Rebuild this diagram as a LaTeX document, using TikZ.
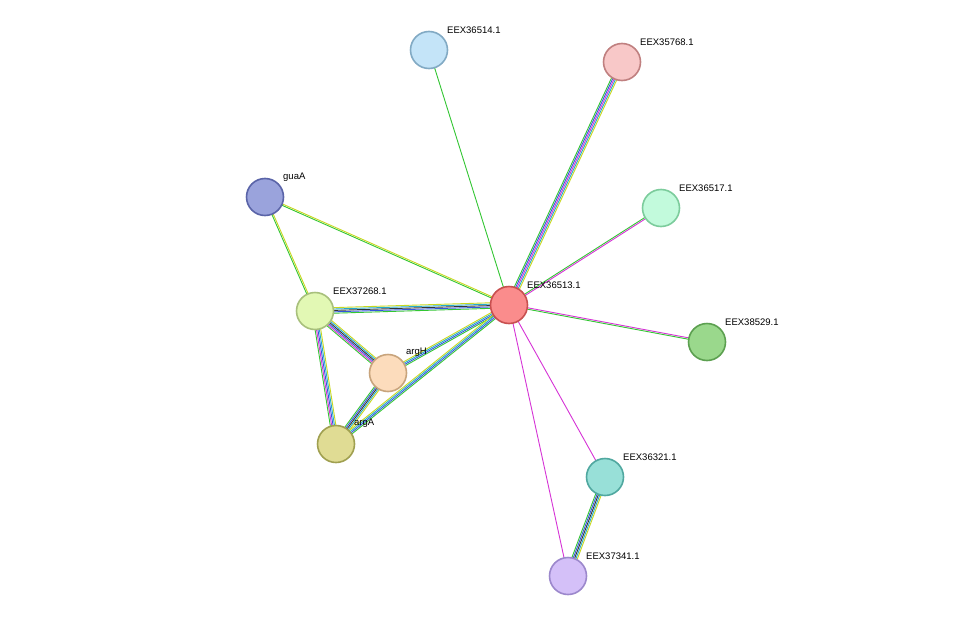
\documentclass[tikz,border=0pt]{standalone}
\usepackage{fontspec}
\newfontfamily\lab{Liberation Sans}
\usetikzlibrary{calc}
\definecolor{eg}{HTML}{33C633}
\definecolor{em}{HTML}{D633D6}
\definecolor{ey}{HTML}{C8D820}
\definecolor{eb}{HTML}{3355DD}
\definecolor{ec}{HTML}{22AACC}
\definecolor{ek}{HTML}{333333}
\newcommand\medge[4]{%
  \foreach \cc [count=\i] in {#3}{%
    \pgfmathsetmacro\oo{(\i-(#4+1)/2)*1.4}
    \draw[\cc,line width=0.9pt] ($(#1)!\oo pt!90:(#2)$) -- ($(#2)!\oo pt!-90:(#1)$);
  }}
\tikzset{prot/.style={circle,minimum size=37pt,line width=1.6pt,inner sep=0pt},
  plab/.style={font=\lab\fontsize{9.5}{11}\selectfont,anchor=south west,inner sep=1pt}}
\begin{document}
\begin{tikzpicture}[x=1pt,y=-1pt]
\useasboundingbox (0,0) rectangle (976,621);
\fill[white] (0,0) rectangle (976,621);
\coordinate (p14) at (429,50);
\coordinate (p68) at (622,62);
\coordinate (gua) at (265,197);
\coordinate (p17) at (661,208);
\coordinate (p13) at (509,305);
\coordinate (p268) at (315,311);
\coordinate (argH) at (388,373);
\coordinate (argA) at (336,444);
\coordinate (p29) at (707,342);
\coordinate (p21) at (605,477);
\coordinate (p41) at (568,576);
\medge{p14}{p13}{eg}{1}
\medge{p68}{p13}{eg,eb,em,ec,ey}{5}
\medge{gua}{p13}{eg,ey}{2}
\medge{gua}{p268}{eg,ey}{2}
\medge{p17}{p13}{eg,em}{2}
\medge{p29}{p13}{em,eg}{2}
\medge{p13}{p21}{em}{1}
\medge{p13}{p41}{em}{1}
\medge{p21}{p41}{eg,eb,ek,ec,ey}{5}
\medge{p268}{p13}{eg,eb,ek,ec,ey}{5}
\medge{p268}{argH}{eg,em,eb,ek,ec,ey}{6}
\medge{p268}{argA}{eg,em,eb,ec,ey}{5}
\medge{argH}{p13}{eg,eb,ec,ey}{4}
\medge{argA}{p13}{eg,eb,ec,ey}{4}
\medge{argH}{argA}{eg,eb,ek,ec,ey}{5}
\node[prot,fill={rgb,255:red,196;green,228;blue,248},draw={rgb,255:red,130;green,170;blue,196}] (n14) at (p14) {};
\node[prot,fill={rgb,255:red,248;green,200;blue,200},draw={rgb,255:red,192;green,128;blue,128}] (n68) at (p68) {};
\node[prot,fill={rgb,255:red,154;green,163;blue,220},draw={rgb,255:red,90;green,100;blue,168}] (ngua) at (gua) {};
\node[prot,fill={rgb,255:red,194;green,250;blue,220},draw={rgb,255:red,124;green,204;blue,156}] (n17) at (p17) {};
\node[prot,fill={rgb,255:red,250;green,140;blue,140},draw={rgb,255:red,200;green,80;blue,80}] (n13) at (p13) {};
\node[prot,fill={rgb,255:red,226;green,248;blue,180},draw={rgb,255:red,168;green,192;blue,124}] (n268) at (p268) {};
\node[prot,fill={rgb,255:red,252;green,220;blue,188},draw={rgb,255:red,200;green,164;blue,124}] (nargH) at (argH) {};
\node[prot,fill={rgb,255:red,224;green,220;blue,148},draw={rgb,255:red,160;green,160;blue,80}] (nargA) at (argA) {};
\node[prot,fill={rgb,255:red,154;green,216;blue,140},draw={rgb,255:red,92;green,160;blue,80}] (n29) at (p29) {};
\node[prot,fill={rgb,255:red,152;green,224;blue,216},draw={rgb,255:red,80;green,168;blue,160}] (n21) at (p21) {};
\node[prot,fill={rgb,255:red,212;green,192;blue,248},draw={rgb,255:red,156;green,136;blue,204}] (n41) at (p41) {};
\node[plab] (l14) at (446,35) {EEX36514.1};
\node[plab] (l68) at (639,47) {EEX35768.1};
\node[plab] (lgua) at (282,183) {guaA};
\node[plab] (l17) at (678,193) {EEX36517.1};
\node[plab] (l13) at (526,290) {EEX36513.1};
\node[plab] (l268) at (332,296) {EEX37268.1};
\node[plab] (largH) at (405,358) {argH};
\node[plab] (largA) at (353,429) {argA};
\node[plab] (l29) at (724,327) {EEX38529.1};
\node[plab] (l21) at (622,462) {EEX36321.1};
\node[plab] (l41) at (585,561) {EEX37341.1};
\end{tikzpicture}
\end{document}
